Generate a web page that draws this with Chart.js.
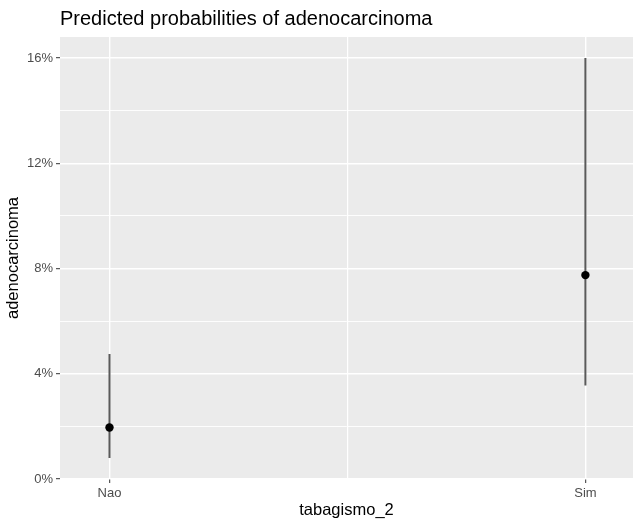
<!DOCTYPE html>
<html>
<head>
<meta charset="utf-8">
<script src="https://cdn.jsdelivr.net/npm/chart.js@4/dist/chart.umd.min.js"></script>
<style>
  html, body { margin: 0; padding: 0; background: #ffffff; }
  #wrap { width: 633px; height: 520px; position: relative; }
</style>
</head>
<body>
<div id="wrap"><canvas id="c" width="633" height="520"></canvas></div>
<script>
const categories = ['Nao', 'Sim'];
const predicted = [0.0196, 0.0775];
const lower = [0.0080, 0.0355];
const upper = [0.0475, 0.1600];
const yTicks = [0, 0.02, 0.04, 0.06, 0.08, 0.10, 0.12, 0.14, 0.16];
const yLabelTicks = [0, 0.04, 0.08, 0.12, 0.16];
const xTicks = [0, 0.5, 1];

const FONT = "'Liberation Sans', Arial, sans-serif";

const panelBg = {
  id: 'panelBg',
  beforeDraw(chart) {
    const a = chart.chartArea, ctx = chart.ctx;
    ctx.save();
    ctx.fillStyle = '#EBEBEB';
    ctx.fillRect(a.left, a.top, a.right - a.left, a.bottom - a.top);
    ctx.restore();
  }
};

const errData = [];
categories.forEach((c, i) => {
  errData.push({x: i, y: lower[i]});
  errData.push({x: i, y: upper[i]});
  errData.push({x: i + 0.5, y: null});
});

const isMajorY = v => yLabelTicks.some(t => Math.abs(t - v) < 1e-9);

new Chart(document.getElementById('c'), {
  type: 'scatter',
  data: {
    datasets: [
      {
        label: 'predicted',
        data: categories.map((c, i) => ({x: i, y: predicted[i]})),
        backgroundColor: '#000000',
        borderColor: '#000000',
        pointRadius: 4.2,
        pointHoverRadius: 4.2,
        borderWidth: 0,
        order: 0
      },
      {
        label: 'ci',
        type: 'line',
        data: errData,
        showLine: true,
        spanGaps: false,
        borderColor: '#5a5a5a',
        borderWidth: 2,
        pointRadius: 0,
        fill: false,
        order: 1
      }
    ]
  },
  plugins: [panelBg],
  options: {
    responsive: false,
    animation: false,
    events: [],
    layout: { padding: 0, autoPadding: false },
    plugins: {
      legend: { display: false },
      tooltip: { enabled: false },
      title: {
        display: true,
        text: 'Predicted probabilities of adenocarcinoma',
        align: 'start',
        fullSize: false,
        color: '#000000',
        font: { family: FONT, size: 20, weight: 'normal' },
        padding: { top: 7, bottom: 6 }
      }
    },
    scales: {
      x: {
        type: 'linear',
        min: -0.104,
        max: 1.1,
        afterBuildTicks: s => { s.ticks = xTicks.map(v => ({value: v})); },
        afterFit: s => { s.height = 41; s.paddingLeft = 0; s.paddingRight = 0; },
        border: { display: false },
        grid: {
          color: '#FFFFFF',
          lineWidth: ctx => (ctx.tick && ctx.tick.value === 0.5) ? 1.2 : 1.4,
          drawTicks: true,
          tickLength: 4,
          tickColor: ctx => (ctx.tick && ctx.tick.value === 0.5) ? 'rgba(0,0,0,0)' : '#333333',
          tickWidth: 1
        },
        ticks: {
          autoSkip: false,
          maxRotation: 0,
          padding: 3,
          color: '#4D4D4D',
          font: { family: FONT, size: 13 },
          callback: v => (v === 0 || v === 1) ? categories[v] : ''
        },
        title: {
          display: true,
          text: 'tabagismo_2',
          color: '#000000',
          font: { family: FONT, size: 16.5 },
          padding: { top: 0, bottom: 0 }
        }
      },
      y: {
        type: 'linear',
        min: 0,
        max: 0.168,
        afterBuildTicks: s => { s.ticks = yTicks.map(v => ({value: v})); },
        afterFit: s => { s.width = 60; s.paddingTop = 0; s.paddingBottom = 0; },
        border: { display: false },
        grid: {
          color: '#FFFFFF',
          lineWidth: ctx => (ctx.tick && isMajorY(ctx.tick.value)) ? 1.4 : 0.9,
          drawTicks: true,
          tickLength: 4,
          tickColor: ctx => (ctx.tick && isMajorY(ctx.tick.value)) ? '#333333' : 'rgba(0,0,0,0)',
          tickWidth: 1
        },
        ticks: {
          autoSkip: false,
          padding: 3,
          color: '#4D4D4D',
          font: { family: FONT, size: 13 },
          callback: v => isMajorY(v) ? Math.round(v * 100) + '%' : ''
        },
        title: {
          display: true,
          text: 'adenocarcinoma',
          color: '#000000',
          font: { family: FONT, size: 16.5 },
          padding: { top: 4, bottom: 0 }
        }
      }
    }
  }
});
</script>
</body>
</html>
